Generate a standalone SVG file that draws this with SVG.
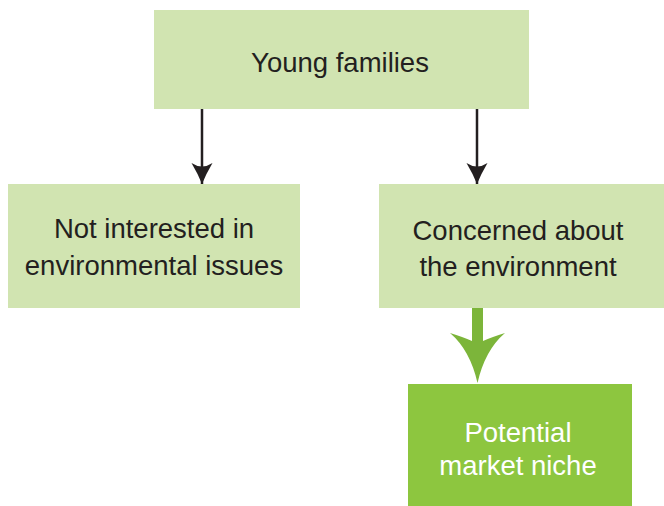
<svg xmlns="http://www.w3.org/2000/svg" width="664" height="506" viewBox="0 0 664 506">
<style>
.lt{fill:#d1e4b1}
.dk{fill:#8dc63f}
.t{font-family:"Liberation Sans",Arial,sans-serif;font-size:27.5px;text-anchor:middle;fill:#231f20}
.w{fill:#ffffff}
.ln{stroke:#231f20;stroke-width:2.5;fill:none}
</style>
<defs>
<marker id="ah" markerUnits="userSpaceOnUse" viewBox="-22 -12 24 24" refX="0" refY="0" markerWidth="24" markerHeight="24" orient="auto">
<path d="M-21,-10.5 Q-10,-4 0,0 Q-10,4 -21,10.5 Q-14,0 -21,-10.5Z" fill="#231f20"/>
</marker>
</defs>
<rect width="664" height="506" fill="#ffffff"/>
<g id="young-families">
<rect class="lt" x="154" y="10" width="375" height="99"/>
<text class="t" x="340" y="72">Young families</text>
</g>
<g id="not-interested">
<rect class="lt" x="8" y="184" width="292" height="124"/>
<text class="t" x="154" y="238">Not interested in</text>
<text class="t" x="154" y="275">environmental issues</text>
</g>
<g id="concerned">
<rect class="lt" x="379" y="184" width="285" height="124"/>
<text class="t" x="518" y="240">Concerned about</text>
<text class="t" x="518" y="276">the environment</text>
</g>
<g id="niche">
<rect class="dk" x="408" y="384" width="224" height="122"/>
<text class="t w" x="518" y="442">Potential</text>
<text class="t w" x="518" y="475">market niche</text>
</g>
<g id="connectors">
<path class="ln" d="M202,109 V184" marker-end="url(#ah)"/>
<path class="ln" d="M477,109 V184" marker-end="url(#ah)"/>
<path d="M472,308 H483 V341 Q492,337 505,333 Q485,350 477.5,383 Q470,350 450,333 Q463,337 472,341 Z" fill="#7cb53a"/>
</g>
</svg>
